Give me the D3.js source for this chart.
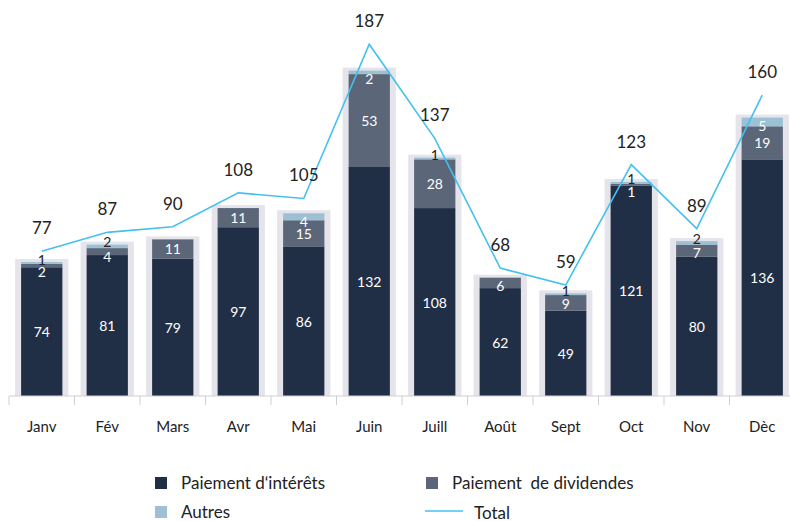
<!DOCTYPE html>
<html>
<head>
<meta charset="utf-8">
<script src="https://cdn.jsdelivr.net/npm/d3@7"></script>
<style>
  html, body { margin: 0; padding: 0; background: #fff; }
  svg { display: block; font-family: Lato, "Open Sans", sans-serif; }
</style>
</head>
<body>
<div id="chart"></div>
<script>
const months = ["Janv","Fév","Mars","Avr","Mai","Juin","Juill","Août","Sept","Oct","Nov","Dèc"];
const interets = [74,81,79,97,86,132,108,62,49,121,80,136];
const dividendes = [2,4,11,11,15,53,28,6,9,1,7,19];
const autres = [1,2,0,0,4,2,1,0,1,1,2,5];
const totals = [77,87,90,108,105,187,137,68,59,123,89,160];

const seriesKeys = ["interets","dividendes","autres"];
const seriesNames = {interets: "Paiement d\u2018intérêts", dividendes: "Paiement  de dividendes", autres: "Autres"};
const colors = {interets: "#212f46", dividendes: "#5b6679", autres: "#9cc0d4"};

const w = 790, h = 521;
const base = 396;

const rows = months.map((m, i) => ({month: m, interets: interets[i], dividendes: dividendes[i], autres: autres[i], total: totals[i]}));

const svg = d3.select("#chart").append("svg")
  .attr("width", w).attr("height", h);

const x = d3.scaleBand().domain(months).range([9, 795]);
const y = d3.scaleLinear().domain([0, 200]).range([base, 48]);
// the total line sits on its own (slightly steeper) scale
const yLine = d3.scaleLinear().domain([0, 185]).range([base, 48]);

const barW = x.bandwidth() * 0.63;
const pad = 6;

// background boxes
svg.append("g").selectAll("rect")
  .data(rows).enter().append("rect")
  .attr("x", d => x(d.month) + (x.bandwidth() - barW) / 2 - pad)
  .attr("y", d => y(d.total) - 3)
  .attr("width", barW + 2 * pad)
  .attr("height", d => base - y(d.total) + 3)
  .attr("fill", "#e4e4ea");

const stack = d3.stack().keys(seriesKeys)(rows);

svg.append("g").selectAll("g")
  .data(stack).enter().append("g")
  .attr("fill", s => colors[s.key])
  .selectAll("rect")
  .data(s => s).enter().append("rect")
  .attr("x", d => x(d.data.month) + (x.bandwidth() - barW) / 2)
  .attr("y", d => y(d[1]))
  .attr("width", barW)
  .attr("height", d => y(d[0]) - y(d[1]));

// segment labels
const labels = [];
rows.forEach((r, i) => {
  const cx = x(r.month) + x.bandwidth() / 2;
  let acc = 0, divY = null;
  seriesKeys.forEach(k => {
    const v = r[k];
    const top = y(acc + v), bot = y(acc);
    acc += v;
    if (v <= 0) return;
    let cy = Math.max((top + bot) / 2, top + 8);
    let fill = "#fff";
    if (k === "dividendes") divY = cy;
    if (k === "autres" && v <= 2 && divY !== null && Math.abs(cy - divY) < 20) {
      cy = top - 3;
      fill = "#222";
    }
    labels.push({x: cx, y: cy, text: v, fill: fill});
  });
});

svg.append("g").selectAll("text")
  .data(labels).enter().append("text")
  .attr("x", d => d.x).attr("y", d => d.y)
  .attr("text-anchor", "middle")
  .attr("dominant-baseline", "central")
  .attr("font-size", 14)
  .attr("fill", d => d.fill)
  .text(d => d.text);

// axis
const ax = svg.append("g");
ax.append("line")
  .attr("x1", 9).attr("x2", 790).attr("y1", base).attr("y2", base)
  .attr("stroke", "#cfcfd4");
ax.selectAll("line.tick")
  .data(months).enter().append("line")
  .attr("class", "tick")
  .attr("x1", d => x(d)).attr("x2", d => x(d))
  .attr("y1", base).attr("y2", base + 9)
  .attr("stroke", "#cfcfd4");
ax.selectAll("text")
  .data(months).enter().append("text")
  .attr("x", d => x(d) + x.bandwidth() / 2)
  .attr("y", 432)
  .attr("text-anchor", "middle")
  .attr("font-size", 15)
  .attr("fill", "#222")
  .text(d => d);

// total line
const line = d3.line()
  .x(d => x(d.month) + x.bandwidth() / 2)
  .y(d => yLine(d.total));

svg.append("path")
  .datum(rows)
  .attr("d", line)
  .attr("fill", "none")
  .attr("stroke", "#45c0ee")
  .attr("stroke-width", 1.6);

svg.append("g").selectAll("text")
  .data(rows).enter().append("text")
  .attr("x", d => x(d.month) + x.bandwidth() / 2)
  .attr("y", d => yLine(d.total) - 17)
  .attr("text-anchor", "middle")
  .attr("font-size", 17)
  .attr("fill", "#222")
  .text(d => d.total);

// legend
const legend = svg.append("g").attr("font-size", 17).attr("fill", "#222");
const legendItems = [
  {key: "interets", x: 155, y: 482},
  {key: "dividendes", x: 426, y: 482},
  {key: "autres", x: 155, y: 511}
];
legendItems.forEach(it => {
  legend.append("rect")
    .attr("x", it.x).attr("y", it.y - 5)
    .attr("width", 12).attr("height", 12)
    .attr("fill", colors[it.key]);
  legend.append("text")
    .attr("x", it.x + 26).attr("y", it.y)
    .attr("dominant-baseline", "central")
    .attr("fill", "#222")
    .attr("xml:space", "preserve")
    .style("white-space", "pre")
    .text(seriesNames[it.key]);
});
legend.append("line")
  .attr("x1", 425).attr("x2", 463).attr("y1", 511).attr("y2", 511)
  .attr("stroke", "#45c0ee").attr("stroke-width", 1.5);
legend.append("text")
  .attr("x", 474).attr("y", 512)
  .attr("dominant-baseline", "central")
  .attr("fill", "#222")
  .text("Total");
</script>
</body>
</html>
